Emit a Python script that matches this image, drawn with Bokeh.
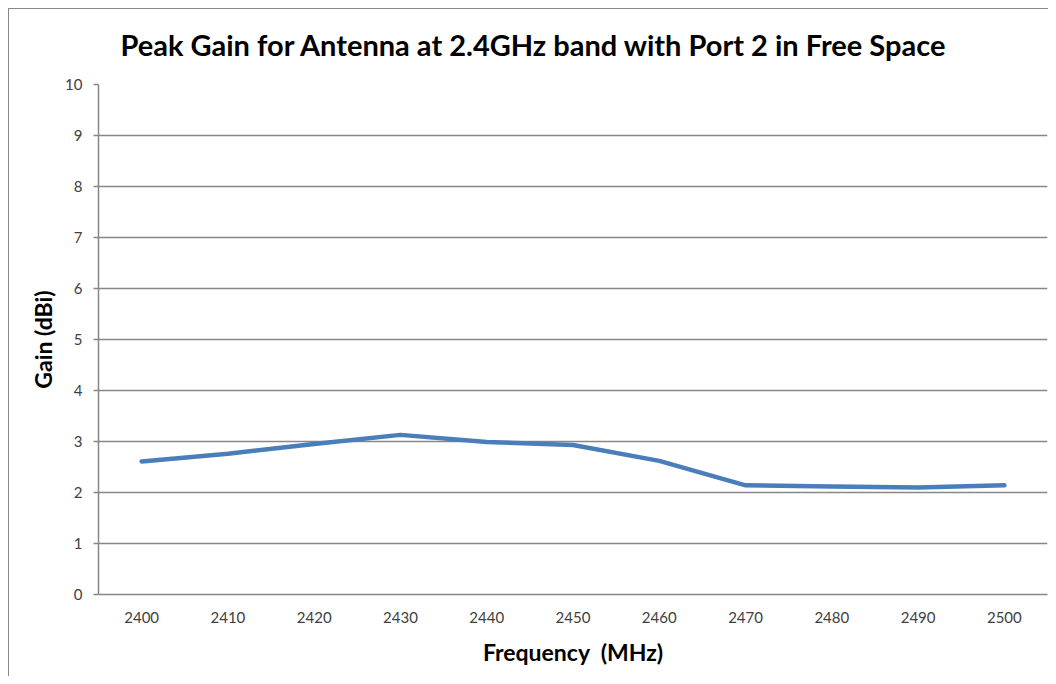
from bokeh.plotting import figure
from bokeh.models import Range1d, FixedTicker
from bokeh.embed import file_html
from bokeh.resources import INLINE

freq = [2400, 2410, 2420, 2430, 2440, 2450, 2460, 2470, 2480, 2490, 2500]
gain = [2.61, 2.76, 2.95, 3.13, 2.99, 2.93, 2.62, 2.14, 2.12, 2.10, 2.14]
y_ticks = [0, 1, 2, 3, 4, 5, 6, 7, 8, 9, 10]

FONT = "Lato"
TXT = "#404040"
GRID = "#878787"

p = figure(width=1048, height=676, output_backend="svg", toolbar_location=None,
           x_range=Range1d(2395, 2505), y_range=Range1d(0, 10),
           min_border_left=98, min_border_right=1, min_border_top=84, min_border_bottom=82)
p.styles = {
    "background": "linear-gradient(#888888,#888888) 8px 8px / 1px 100% no-repeat, "
                  "linear-gradient(#888888,#888888) 8px 8px / 100% 1px no-repeat, white"
}

p.line(freq, gain, line_color="#4a7ebb", line_width=4.5, line_join="round", line_cap="round")

p.title.text = "Peak Gain for Antenna at 2.4GHz band with Port 2 in Free Space"
p.title.text_font = FONT
p.title.text_font_style = "bold"
p.title.text_font_size = "29px"
p.title.text_color = "#000000"
p.title.align = "left"
p.title.offset = 22
p.title.standoff = 41
p.title.vertical_align = "top"

p.outline_line_color = None
p.background_fill_color = "white"
p.border_fill_color = None

p.xgrid.grid_line_color = None
p.ygrid.grid_line_color = GRID
p.ygrid.grid_line_width = 1.5

p.yaxis.ticker = FixedTicker(ticks=y_ticks)
p.xaxis.ticker = FixedTicker(ticks=freq)
for ax in (p.xaxis, p.yaxis):
    ax.axis_line_color = GRID
    ax.axis_line_width = 1.5
    ax.major_tick_line_color = GRID
    ax.major_tick_line_width = 1.5
    ax.minor_tick_line_color = None
    ax.major_label_text_font = FONT
    ax.major_label_text_font_size = "15px"
    ax.major_label_text_color = TXT
    ax.axis_label_text_font = FONT
    ax.axis_label_text_font_style = "bold"
    ax.axis_label_text_font_size = "23px"
    ax.axis_label_text_color = "#000000"

p.yaxis.major_tick_out = 5
p.yaxis.major_tick_in = 0
p.yaxis.major_label_standoff = 11
p.yaxis.axis_label = "Gain (dBi)"
p.yaxis.axis_label_standoff = 5

p.xaxis.major_tick_out = 0
p.xaxis.major_tick_in = 0
p.xaxis.major_label_standoff = 17
p.xaxis.axis_label = "Frequency\u00a0\u00a0(MHz)"
p.xaxis.axis_label_standoff = 12

open("out.html", "w").write(file_html(p, INLINE))
